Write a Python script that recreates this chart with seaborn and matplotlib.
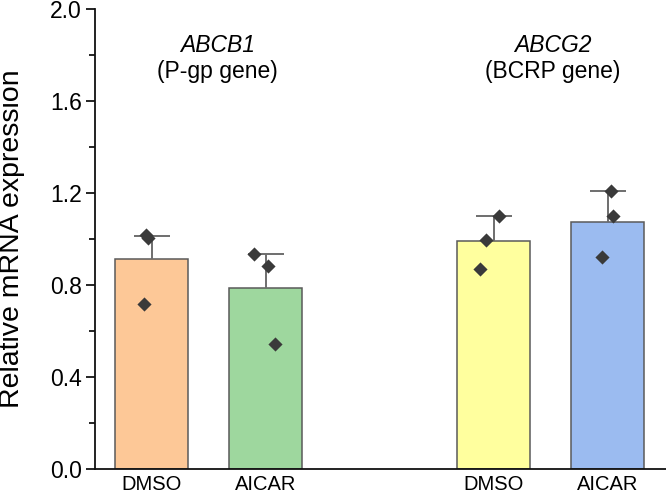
import numpy as np
import pandas as pd
import matplotlib
matplotlib.use("Agg")
import matplotlib.pyplot as plt
import seaborn as sns

# ---- data ----
groups = ["ABCB1 DMSO", "ABCB1 AICAR", "ABCG2 DMSO", "ABCG2 AICAR"]
tick_labels = ["DMSO", "AICAR", "DMSO", "AICAR"]
positions = [0, 1, 3, 4]
means = [0.912, 0.788, 0.991, 1.075]
sem = [0.102, 0.148, 0.107, 0.135]
bar_colors = ["#FDC897", "#9ED79E", "#FFFF9E", "#9BBBF0"]

pt_group = [0, 0, 0, 1, 1, 1, 2, 2, 2, 3, 3, 3]
pt_values = [1.017, 1.003, 0.719, 0.935, 0.883, 0.545, 1.100, 0.995, 0.870, 1.210, 1.100, 0.920]
pt_offset = [-0.05, -0.03, -0.07, -0.10, 0.02, 0.08, 0.05, -0.07, -0.115, 0.03, 0.045, -0.045]

gene_titles = [("ABCB1", "(P-gp gene)"), ("ABCG2", "(BCRP gene)")]
title_x = [0.58, 3.52]

sns.set_style("ticks")
plt.rcParams["font.family"] = ["Liberation Sans", "DejaVu Sans"]
plt.rcParams["text.color"] = "black"
plt.rcParams["axes.labelcolor"] = "black"
plt.rcParams["xtick.color"] = "black"
plt.rcParams["ytick.color"] = "black"

fig = plt.figure(figsize=(6.66, 4.96), dpi=100)
ax = fig.add_axes([0.1426, 0.0544, 0.8574, 0.9275])

df = pd.DataFrame({"pos": positions, "mean": means, "group": groups})
sns.barplot(data=df, x="pos", y="mean", hue="group", palette=bar_colors,
            native_scale=True, dodge=False, width=0.64, errorbar=None, saturation=1,
            edgecolor="#5a5a5a", linewidth=1.1, legend=False, ax=ax, zorder=2)

eb = ax.errorbar(positions, means, yerr=[np.zeros(len(means)), sem], fmt="none",
                 ecolor="#6e6e6e", elinewidth=1.4, capsize=13, capthick=1.4, zorder=3)
eb[1][0].set_visible(False)

pdf = pd.DataFrame({
    "x": [positions[g] + o for g, o in zip(pt_group, pt_offset)],
    "y": pt_values,
})
sns.scatterplot(data=pdf, x="x", y="y", marker="D", s=52, color="#3a3a3a",
                edgecolor="#3a3a3a", linewidth=0, ax=ax, zorder=4)

for (gene, sub), tx in zip(gene_titles, title_x):
    ax.text(tx, 1.84, gene, ha="center", va="center", fontsize=16.5, style="italic")
    ax.text(tx, 1.73, sub, ha="center", va="center", fontsize=16.5)

ax.set_xlim(-0.496, 4.513)
ax.set_ylim(0, 2.0)
ax.set_yticks(np.arange(0, 2.01, 0.4))
ax.set_yticklabels([f"{v:.1f}" for v in np.arange(0, 2.01, 0.4)])
ax.set_yticks(np.arange(0.2, 2.0, 0.4), minor=True)
ax.set_xticks(positions)
ax.set_xticklabels(tick_labels)
ax.tick_params(axis="y", which="major", length=6.5, width=1.2, labelsize=16.5, pad=3)
ax.tick_params(axis="y", which="minor", length=4, width=1.2)
ax.tick_params(axis="x", length=0, labelsize=14.5, pad=4)
ax.set_xlabel("")
ax.set_ylabel("Relative mRNA expression", fontsize=20.5)
ax.yaxis.set_label_coords(-0.122, 0.5)
for s in ["top", "right"]:
    ax.spines[s].set_visible(False)
for s in ["left", "bottom"]:
    ax.spines[s].set_linewidth(1.3)
    ax.spines[s].set_color("#111111")
ax.spines["left"].set_zorder(5)

fig.savefig("out.png", dpi=100)
